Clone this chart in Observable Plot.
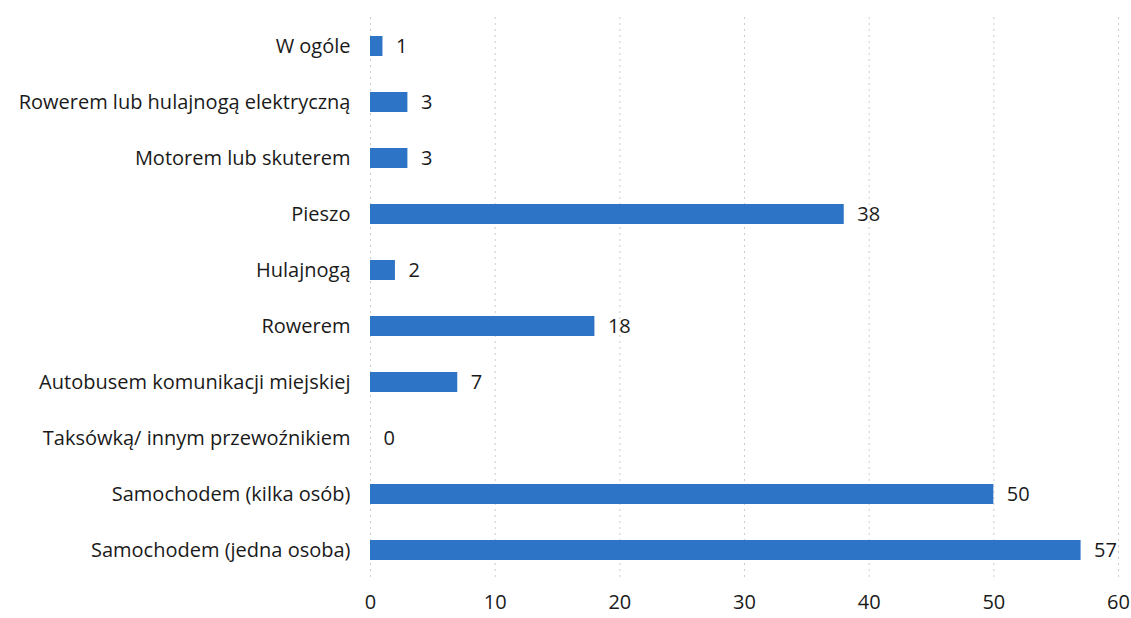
<!DOCTYPE html>
<html>
<head>
<meta charset="utf-8">
<script src="https://cdn.jsdelivr.net/npm/d3@7"></script>
<script src="https://cdn.jsdelivr.net/npm/@observablehq/plot@0.6"></script>
<style>
  html, body { margin: 0; padding: 0; background: #fff; }
  #chart svg { display: block; }
</style>
</head>
<body>
<div id="chart"></div>
<script>
const categories = [
  "W ogóle",
  "Rowerem lub hulajnogą elektryczną",
  "Motorem lub skuterem",
  "Pieszo",
  "Hulajnogą",
  "Rowerem",
  "Autobusem komunikacji miejskiej",
  "Taksówką/ innym przewoźnikiem",
  "Samochodem (kilka osób)",
  "Samochodem (jedna osoba)"
];
const values = [1, 3, 3, 38, 2, 18, 7, 0, 50, 57];
const xTicks = [0, 10, 20, 30, 40, 50, 60];

const data = categories.map((c, i) => ({category: c, value: values[i]}));

const chart = Plot.plot({
  width: 1131,
  height: 618,
  marginLeft: 370,
  marginRight: 13,
  marginTop: 17,
  marginBottom: 38,
  style: {fontFamily: "'Open Sans', sans-serif", fontSize: "20px", color: "#1a1a1a", background: "#fff"},
  x: {domain: [0, 60], ticks: xTicks, label: null},
  y: {domain: categories, paddingInner: 0.64, paddingOuter: 0.32, label: null},
  marks: [
    Plot.ruleX(xTicks, {stroke: "#aaa", strokeOpacity: 0.6, strokeDasharray: "2,4"}),
    Plot.barX(data, {x: "value", y: "category", fill: "#2e74c6"}),
    Plot.text(data, {x: "value", y: "category", text: d => String(d.value), dx: 13, textAnchor: "start", fontSize: 20, fill: "#1a1a1a"}),
    Plot.axisX(xTicks, {tickSize: 0, tickPadding: 14, fontSize: 20, anchor: "bottom", label: null}),
    Plot.axisY({tickSize: 0, tickPadding: 20, fontSize: 20, label: null})
  ]
});
document.getElementById("chart").appendChild(chart);
</script>
</body>
</html>
